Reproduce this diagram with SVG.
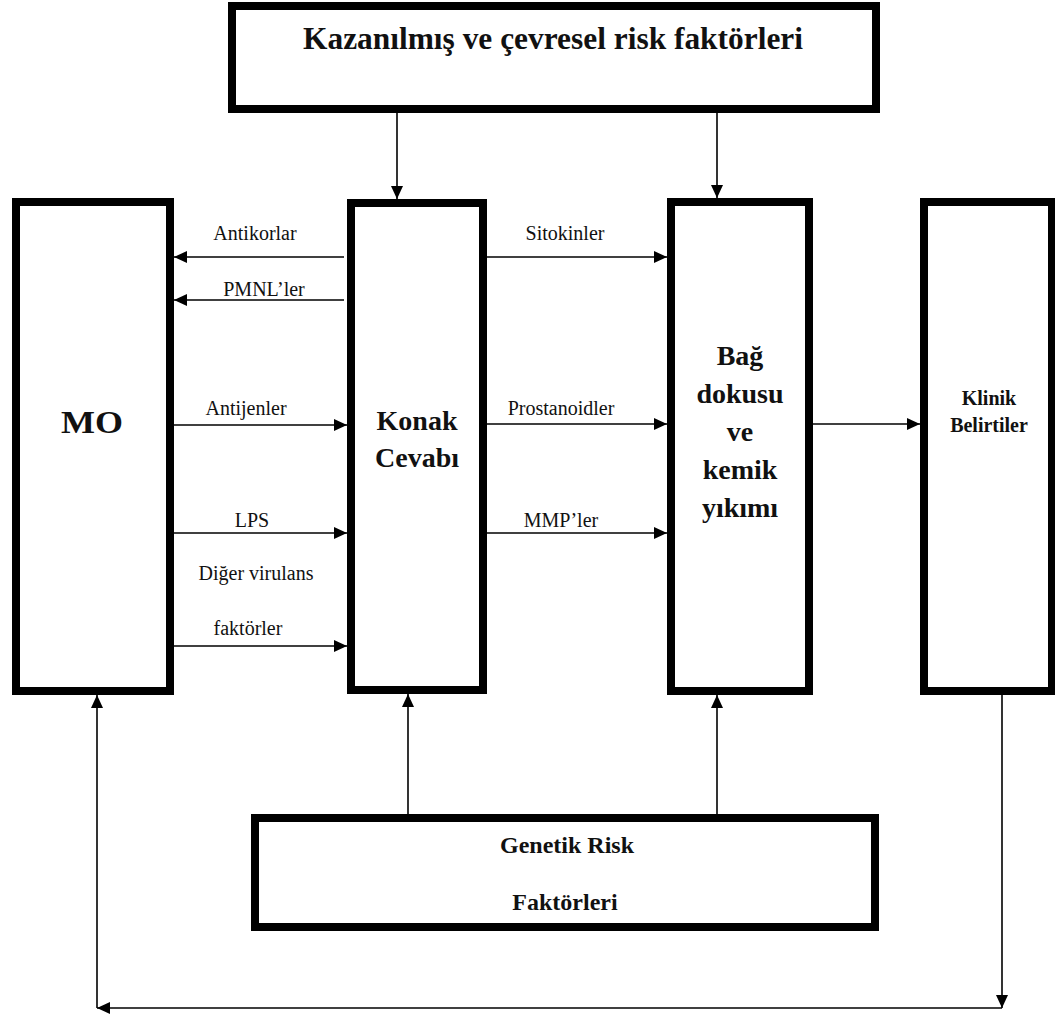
<svg xmlns="http://www.w3.org/2000/svg" width="1055" height="1016" viewBox="0 0 1055 1016">
<defs>
<marker id="ah" markerUnits="userSpaceOnUse" markerWidth="14" markerHeight="12" refX="13" refY="6" orient="auto">
<path d="M0,0 L13,6 L0,12 Z" fill="#000"/>
</marker>
<style>
.box{fill:#fff;stroke:#000;stroke-width:8}
.c{fill:none;stroke:#000;stroke-width:1.6}
.a{marker-end:url(#ah)}
.t{font-family:"Liberation Serif","Times New Roman",serif;fill:#111;text-anchor:middle}
.b{font-weight:bold}
.lbl{font-size:20px}
</style>
</defs>
<rect width="1055" height="1016" fill="#fff"/>
<g id="kazanilmis">
<rect class="box" x="232" y="6" width="644" height="103"/>
<text class="t b" x="553" y="49" font-size="31" textLength="500" lengthAdjust="spacingAndGlyphs">Kazanılmış ve çevresel risk faktörleri</text>
</g>
<g id="mo">
<rect class="box" x="16" y="202" width="154" height="489"/>
<text class="t b" x="92" y="433" font-size="32" textLength="62" lengthAdjust="spacingAndGlyphs">MO</text>
</g>
<g id="konak">
<rect class="box" x="351" y="203" width="132" height="487"/>
<text class="t b" x="417" y="430" font-size="28">Konak</text>
<text class="t b" x="417" y="467" font-size="28">Cevabı</text>
</g>
<g id="bag">
<rect class="box" x="671" y="202" width="138" height="489"/>
<text class="t b" x="740" y="365" font-size="28">Bağ</text>
<text class="t b" x="740" y="403" font-size="28">dokusu</text>
<text class="t b" x="740" y="441" font-size="28">ve</text>
<text class="t b" x="740" y="479" font-size="28">kemik</text>
<text class="t b" x="740" y="517" font-size="28">yıkımı</text>
</g>
<g id="klinik">
<rect class="box" x="924" y="202" width="128" height="489"/>
<text class="t b" x="989" y="405" font-size="20">Klinik</text>
<text class="t b" x="989" y="432" font-size="20">Belirtiler</text>
</g>
<g id="genetik">
<rect class="box" x="255" y="818" width="620" height="109"/>
<text class="t b" x="567" y="853" font-size="24">Genetik Risk</text>
<text class="t b" x="565" y="910" font-size="24">Faktörleri</text>
</g>
<g id="connectors">
<line class="c a" x1="397" y1="113" x2="397" y2="199"/>
<line class="c a" x1="717" y1="113" x2="717" y2="198"/>
<line class="c a" x1="344" y1="257" x2="174" y2="257"/>
<line class="c a" x1="344" y1="300" x2="174" y2="300"/>
<line class="c a" x1="174" y1="425" x2="347" y2="425"/>
<line class="c a" x1="174" y1="533" x2="347" y2="533"/>
<line class="c a" x1="174" y1="646" x2="347" y2="646"/>
<line class="c a" x1="487" y1="257" x2="667" y2="257"/>
<line class="c a" x1="487" y1="424" x2="667" y2="424"/>
<line class="c a" x1="487" y1="533" x2="667" y2="533"/>
<line class="c a" x1="813" y1="424" x2="920" y2="424"/>
<line class="c a" x1="408" y1="814" x2="408" y2="694"/>
<line class="c a" x1="717" y1="814" x2="717" y2="695"/>
<line class="c a" x1="1002" y1="695" x2="1002" y2="1008"/>
<line class="c a" x1="1002" y1="1008" x2="97" y2="1008"/>
<line class="c a" x1="97" y1="1008" x2="97" y2="695"/>
</g>
<g id="labels">
<text class="t lbl" x="255" y="240">Antikorlar</text>
<text class="t lbl" x="264" y="296">PMNL’ler</text>
<text class="t lbl" x="246" y="415">Antijenler</text>
<text class="t lbl" x="252" y="527">LPS</text>
<text class="t lbl" x="256" y="580">Diğer virulans</text>
<text class="t lbl" x="248" y="635">faktörler</text>
<text class="t lbl" x="565" y="240">Sitokinler</text>
<text class="t lbl" x="561" y="415">Prostanoidler</text>
<text class="t lbl" x="561" y="527">MMP’ler</text>
</g>
</svg>
